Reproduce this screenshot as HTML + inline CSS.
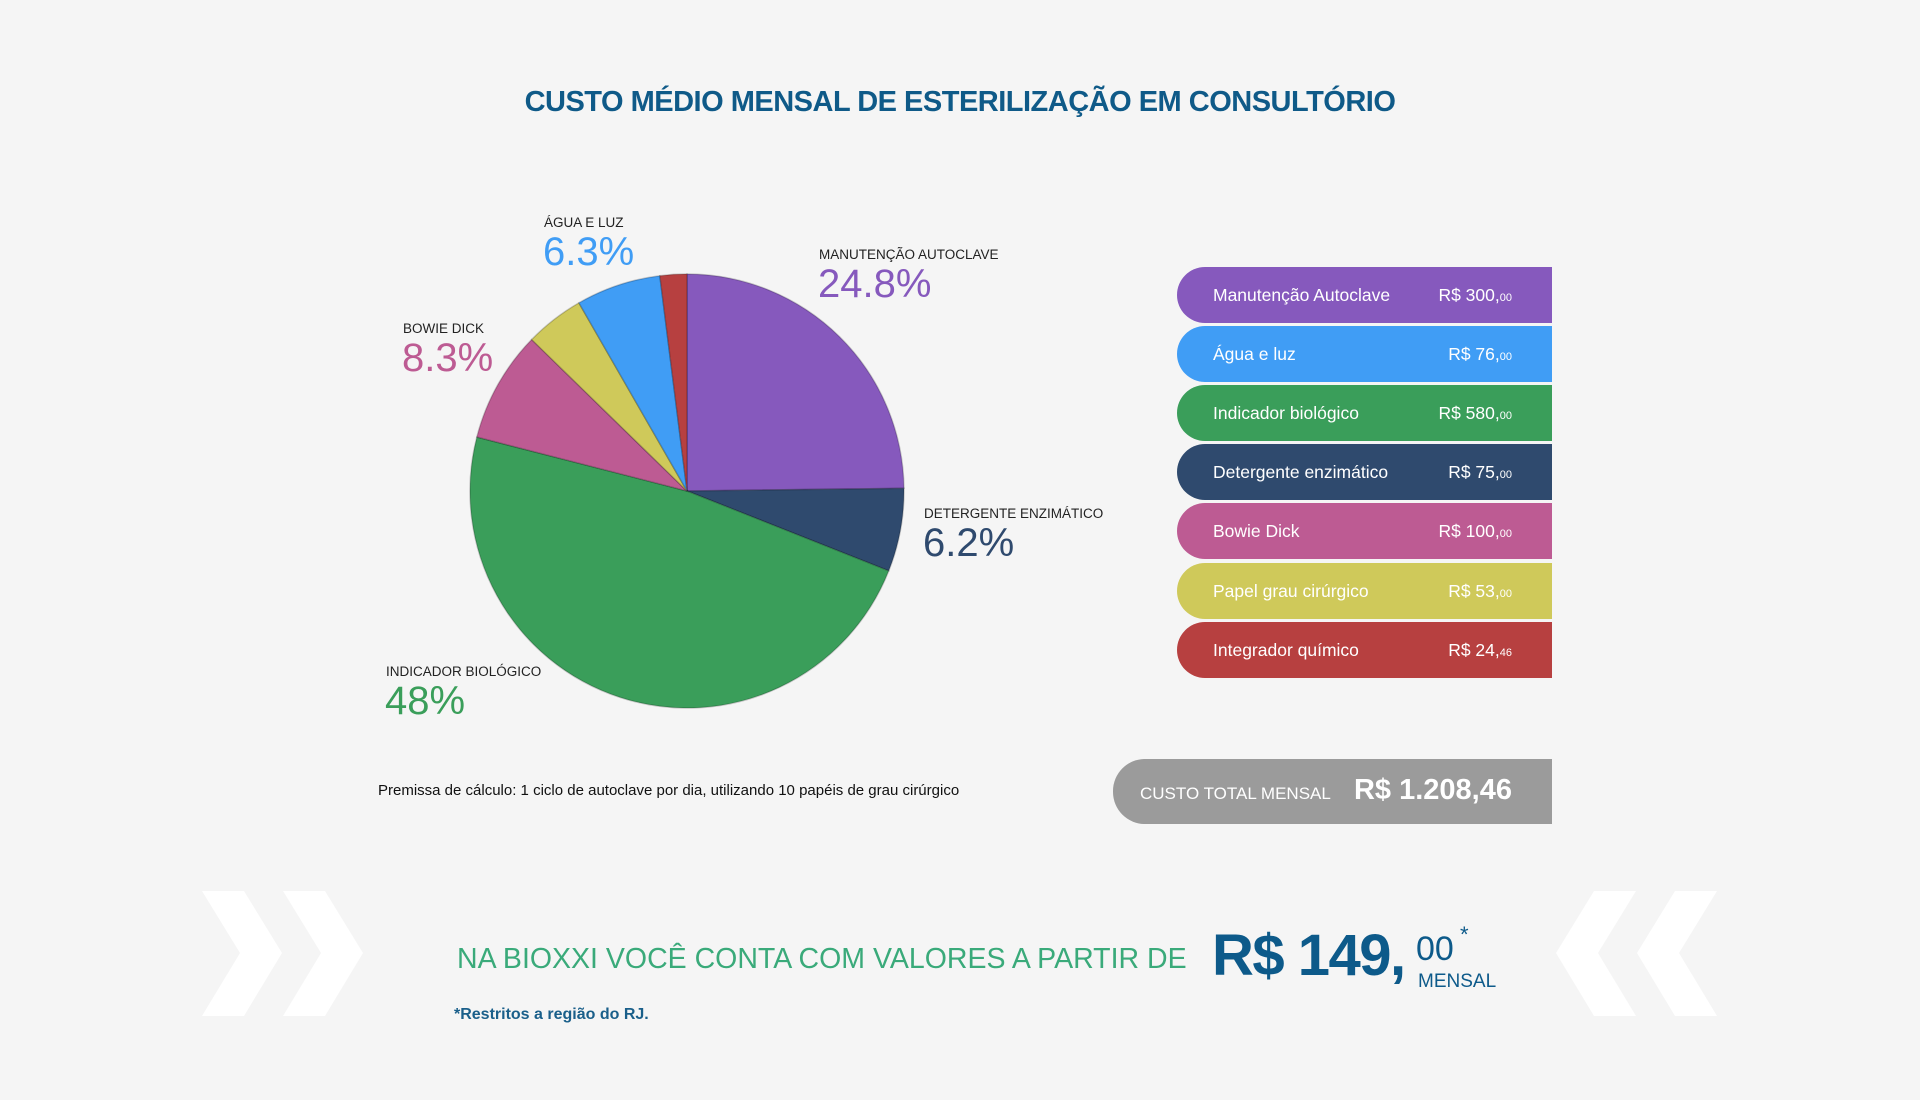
<!DOCTYPE html>
<html><head><meta charset="utf-8"><style>
body{margin:0;width:1920px;height:1100px;background:#f5f5f5;font-family:"Liberation Sans",sans-serif;position:relative;overflow:hidden}
.a{position:absolute;white-space:nowrap}
.t{left:0;width:1920px;text-align:center;top:86px;font-size:29px;font-weight:bold;color:#0f5a88;letter-spacing:-0.5px}
.sl{font-size:13.5px;color:#222}
.pc{font-size:40px;line-height:40px}
.row{position:absolute;left:1177px;width:375px;height:56px;border-radius:28px 0 0 28px;color:#fff;font-size:17.5px}
.row .n{position:absolute;left:36px;top:18px}
.row .v{position:absolute;right:40px;top:18px}
.row small{font-size:11px}
</style></head><body>
<div class="a t">CUSTO MÉDIO MENSAL DE ESTERILIZAÇÃO EM CONSULTÓRIO</div>
<svg class="a" style="left:0;top:0" width="1920" height="1100" id="pie"></svg>
<div class="a sl" style="left:544px;top:215px">ÁGUA E LUZ</div>
<div class="a pc" style="left:543px;top:232px;color:#409df5">6.3%</div>
<div class="a sl" style="left:819px;top:247px">MANUTENÇÃO AUTOCLAVE</div>
<div class="a pc" style="left:818px;top:264px;color:#8659bd">24.8%</div>
<div class="a sl" style="left:403px;top:321px">BOWIE DICK</div>
<div class="a pc" style="left:402px;top:338px;color:#bd5b93">8.3%</div>
<div class="a sl" style="left:924px;top:506px">DETERGENTE ENZIMÁTICO</div>
<div class="a pc" style="left:923px;top:523px;color:#2f4a6e">6.2%</div>
<div class="a sl" style="left:386px;top:664px">INDICADOR BIOLÓGICO</div>
<div class="a pc" style="left:385px;top:681px;color:#3a9e5a">48%</div>

<div class="row" style="top:267px;background:#8659bd"><span class="n">Manutenção Autoclave</span><span class="v">R$ 300,<small>00</small></span></div>
<div class="row" style="top:326px;background:#409df5"><span class="n">Água e luz</span><span class="v">R$ 76,<small>00</small></span></div>
<div class="row" style="top:385px;background:#3a9e5a"><span class="n">Indicador biológico</span><span class="v">R$ 580,<small>00</small></span></div>
<div class="row" style="top:444px;background:#2f4a6e"><span class="n">Detergente enzimático</span><span class="v">R$ 75,<small>00</small></span></div>
<div class="row" style="top:503px;background:#bd5b93"><span class="n">Bowie Dick</span><span class="v">R$ 100,<small>00</small></span></div>
<div class="row" style="top:563px;background:#cfc95a"><span class="n">Papel grau cirúrgico</span><span class="v">R$ 53,<small>00</small></span></div>
<div class="row" style="top:622px;background:#b74040"><span class="n">Integrador químico</span><span class="v">R$ 24,<small>46</small></span></div>

<div class="a" style="left:1113px;top:759px;width:439px;height:65px;background:#9b9b9b;border-radius:32px 0 0 32px;color:#fff">
<span class="a" style="left:27px;top:25px;font-size:17px">CUSTO TOTAL MENSAL</span>
<span class="a" style="right:40px;top:15px;font-size:29px;font-weight:bold">R$ 1.208,46</span></div>
<div class="a" style="left:378px;top:782px;font-size:15px;color:#111">Premissa de cálculo: 1 ciclo de autoclave por dia, utilizando 10 papéis de grau cirúrgico</div>

<svg class="a" style="left:0;top:0" width="1920" height="1100">
<g fill="#fff">
<polygon points="202,891 244,891 282,953 244,1016 202,1016 240,953"/>
<polygon points="283,891 325,891 363,953 325,1016 283,1016 321,953"/>
<polygon points="1717,891 1675,891 1637,953 1675,1016 1717,1016 1679,953"/>
<polygon points="1636,891 1594,891 1556,953 1594,1016 1636,1016 1598,953"/>
</g></svg>
<div class="a" style="left:457px;top:943px;font-size:28.5px;color:#3aaa7a">NA BIOXXI VOCÊ CONTA COM VALORES A PARTIR DE</div>
<div class="a" style="left:1212px;top:922px;font-size:58px;font-weight:bold;color:#0d5a8a;letter-spacing:-1.5px">R$ 149,</div>
<div class="a" style="left:1416px;top:930px;font-size:34px;color:#0d5a8a">00</div>
<div class="a" style="left:1460px;top:922px;font-size:22px;color:#0d5a8a">*</div>
<div class="a" style="left:1418px;top:971px;font-size:19px;color:#0d5a8a">MENSAL</div>
<div class="a" style="left:454px;top:1006px;font-size:16px;font-weight:bold;color:#1a5f8a">*Restritos a região do RJ.</div>
<script>
var d=[[24.8,"#8659bd"],[6.2,"#2f4a6e"],[48,"#3a9e5a"],[8.3,"#bd5b93"],[4.4,"#cfc95a"],[6.3,"#409df5"],[2,"#b74040"]];
var cx=687,cy=491,r=217,a=0,s="";
d.forEach(function(p){var b=a+p[0]/100*2*Math.PI;
var x1=cx+r*Math.sin(a),y1=cy-r*Math.cos(a),x2=cx+r*Math.sin(b),y2=cy-r*Math.cos(b);
s+='<path d="M'+cx+','+cy+'L'+x1+','+y1+'A'+r+','+r+' 0 '+(b-a>Math.PI?1:0)+' 1 '+x2+','+y2+'Z" fill="'+p[1]+'" stroke="rgba(0,0,0,0.2)" stroke-width="1.5"/>';a=b;});
document.getElementById("pie").innerHTML=s;
</script>
</body></html>
